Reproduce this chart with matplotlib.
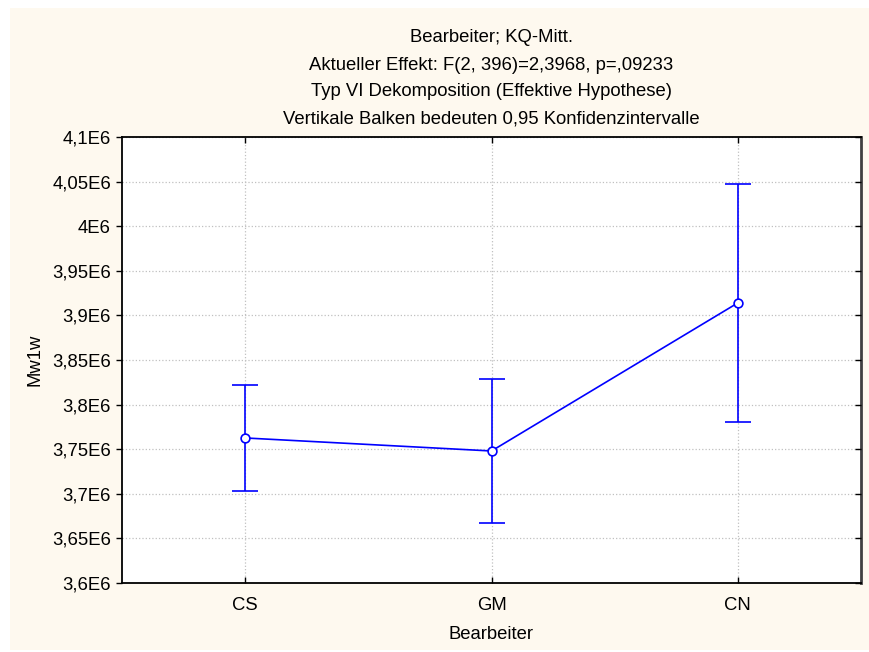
import matplotlib.pyplot as plt
from matplotlib.patches import Rectangle

plt.rcParams['font.family'] = ['Liberation Sans', 'DejaVu Sans']

# data
groups = ["CS", "GM", "CN"]
means = [3.7626e6, 3.748e6, 3.914e6]
ci_low = [3.7035e6, 3.6675e6, 3.7805e6]
ci_high = [3.8215e6, 3.8287e6, 4.0475e6]

yticks = [3.6e6, 3.65e6, 3.7e6, 3.75e6, 3.8e6, 3.85e6, 3.9e6, 3.95e6, 4.0e6, 4.05e6, 4.1e6]
ytick_labels = ["3,6E6", "3,65E6", "3,7E6", "3,75E6", "3,8E6", "3,85E6",
                "3,9E6", "3,95E6", "4E6", "4,05E6", "4,1E6"]

title_lines = ["Bearbeiter; KQ-Mitt.",
               "Aktueller Effekt: F(2, 396)=2,3968, p=,09233",
               "Typ VI Dekomposition (Effektive Hypothese)",
               "Vertikale Balken bedeuten 0,95 Konfidenzintervalle"]

FS = 13.3
W, H = 869, 652
fig = plt.figure(figsize=(W / 100, H / 100), dpi=100, facecolor="white")

# cream background panel
fig.patches.append(Rectangle((10 / W, 2 / H), 1 - 10 / W, (650 - 8) / H,
                             transform=fig.transFigure, facecolor="#FEF9EF",
                             edgecolor="none", zorder=-1))

left, right, top, bottom = 122, 861, 137, 583
ax = fig.add_axes([left / W, 1 - bottom / H, (right - left) / W, (bottom - top) / H])
ax.set_zorder(1)
ax.set_facecolor("white")

x = list(range(len(groups)))
err_lo = [m - l for m, l in zip(means, ci_low)]
err_hi = [h - m for m, h in zip(means, ci_high)]
ax.errorbar(x, means, yerr=[err_lo, err_hi], color="#0000FF", lw=1.2,
            capsize=9.5, capthick=1.2, marker="o", markersize=6.3,
            markerfacecolor="white", markeredgecolor="#0000FF",
            markeredgewidth=1.2, zorder=3)

ax.set_xlim(-0.5, 2.5)
ax.set_ylim(3.6e6, 4.1e6)
ax.set_xticks(x)
ax.set_xticklabels(groups, fontsize=FS)
ax.set_yticks(yticks)
ax.set_yticklabels(ytick_labels, fontsize=FS)
ax.grid(True, color="#c0c0c0", linestyle=":", linewidth=0.9)
ax.set_axisbelow(True)
ax.tick_params(axis="x", direction="in", length=4, width=1, top=True,
               pad=10, colors="black")
ax.tick_params(axis="y", which="both", left=True, right=False,
               direction="out", length=4, width=1, pad=4, colors="black")

# inward ticks on the right side
ax2 = ax.twinx()
ax2.set_ylim(ax.get_ylim())
ax2.set_yticks(yticks)
ax2.set_yticklabels([])
ax2.tick_params(axis="y", direction="in", length=4, width=1, colors="black")
for s in ax2.spines.values():
    s.set_visible(False)

for s in ["left", "bottom", "top"]:
    ax.spines[s].set_linewidth(1.3)
    ax.spines[s].set_color("black")
ax.spines["right"].set_linewidth(2)
ax.spines["right"].set_color("#404040")

ax.set_xlabel("Bearbeiter", fontsize=FS, labelpad=9)
ax.set_ylabel("Mw1w", fontsize=FS, labelpad=6)

for i, t in enumerate(title_lines):
    fig.text((left + right) / 2 / W, 1 - (38 + 27 * i) / H, t,
             ha="center", va="center", fontsize=FS)

fig.savefig("out.png", dpi=100, facecolor="white")
